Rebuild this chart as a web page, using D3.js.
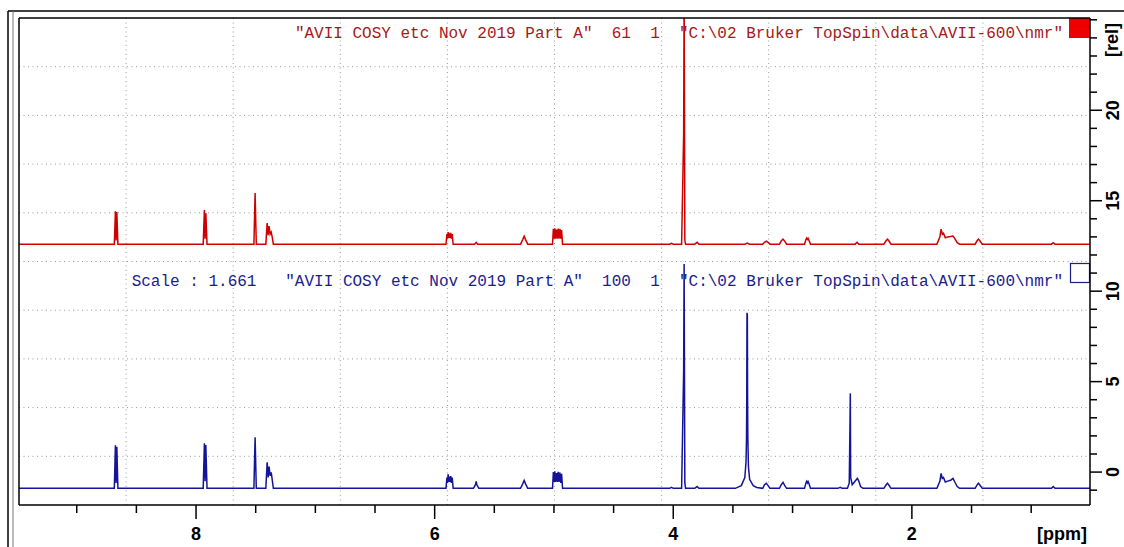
<!DOCTYPE html>
<html lang="en">
<head>
<meta charset="utf-8">
<title>AVII COSY stacked 1H spectra</title>
<script src="https://cdnjs.cloudflare.com/ajax/libs/d3/7.8.5/d3.min.js"></script>
<style>
body { margin: 0; background: #fff; }
svg { display: block; }
.axlabel { font-family: "Liberation Sans", Arial, sans-serif; font-weight: bold; font-size: 18px; fill: #000; }
.title { font-family: "Liberation Mono", "Courier New", monospace; font-size: 16px; white-space: pre; }
</style>
</head>
<body>
<div id="chart"></div>
<script>
// axis values
var ppmMinorTicks = [9, 8.5, 8, 7.5, 7, 6.5, 6, 5.5, 5, 4.5, 4, 3.5, 3, 2.5, 2, 1.5, 1];
var ppmLabels = [8, 6, 4, 2];
var relMinorTicks = [-1, 0, 1, 2, 3, 4, 5, 6, 7, 8, 9, 10, 11, 12, 13, 14, 15, 16, 17, 18, 19, 20, 21, 22, 23, 24, 25];
var relLabels = [0, 5, 10, 15, 20];

// legend strings
var redTitle = "\"AVII COSY etc Nov 2019 Part A\"  61  1  \"C:\\02 Bruker TopSpin\\data\\AVII-600\\nmr\"";
var blueTitle = "Scale : 1.661   \"AVII COSY etc Nov 2019 Part A\"  100  1  \"C:\\02 Bruker TopSpin\\data\\AVII-600\\nmr\"";

// stacking offsets (rel units)
var redOffset = 12.6;
var blueOffset = -0.9;

// red spectrum (exp 61): [ppm, intensity]
var redSpectrum = [
  [9.50, 0],
  [8.685, 0], [8.676, 1.82], [8.670, 0.2], [8.664, 1.77], [8.655, 0],
  [7.940, 0], [7.930, 1.88], [7.924, 0.3], [7.918, 1.71], [7.908, 0],
  [7.515, 0], [7.505, 2.82], [7.495, 0],
  [7.415, 0], [7.404, 1.16], [7.395, 0.5], [7.388, 1.0], [7.379, 0.55], [7.370, 0.66], [7.362, 0.4], [7.352, 0],
  [5.905, 0], [5.897, 0.55], [5.893, 0.3], [5.887, 0.66], [5.882, 0.35], [5.876, 0.6], [5.871, 0.35], [5.865, 0.62], [5.860, 0.3], [5.853, 0.55], [5.845, 0],
  [5.665, 0], [5.652, 0.1], [5.640, 0],
  [5.280, 0], [5.262, 0.25], [5.250, 0.44], [5.238, 0.25], [5.220, 0],
  [5.012, 0], [5.005, 0.85], [4.999, 0.3], [4.993, 0.88], [4.987, 0.3], [4.979, 0.8], [4.972, 0.3], [4.965, 0.86], [4.958, 0.3], [4.950, 0.84], [4.943, 0.3], [4.936, 0.78], [4.928, 0],
  [4.030, 0], [4.015, 0.05], [4.000, 0],
  [3.930, 0], [3.913, 6.1], [3.909, 14.0], [3.903, 0.2], [3.897, 0],
  [3.820, 0], [3.800, 0.1], [3.785, 0],
  [3.400, 0], [3.381, 0.06], [3.360, 0],
  [3.250, 0], [3.235, 0.1], [3.220, 0.17], [3.205, 0.1], [3.190, 0],
  [3.110, 0], [3.095, 0.18], [3.080, 0.28], [3.065, 0.15], [3.050, 0],
  [2.900, 0], [2.888, 0.25], [2.882, 0.33], [2.876, 0.26], [2.870, 0.32], [2.862, 0.2], [2.850, 0],
  [2.475, 0], [2.460, 0.1], [2.445, 0],
  [2.235, 0], [2.215, 0.2], [2.205, 0.28], [2.195, 0.2], [2.175, 0],
  [1.790, 0], [1.765, 0.4], [1.755, 0.83], [1.745, 0.55], [1.735, 0.6], [1.720, 0.35], [1.700, 0.4], [1.675, 0.42], [1.655, 0.45], [1.640, 0.3], [1.620, 0.08], [1.600, 0],
  [1.470, 0], [1.452, 0.2], [1.442, 0.28], [1.432, 0.2], [1.410, 0],
  [0.830, 0], [0.815, 0.08], [0.800, 0],
  [0.50, 0]
];

// blue spectrum (exp 100): [ppm, intensity]
var blueSpectrum = [
  [9.50, 0],
  [8.685, 0], [8.676, 2.38], [8.670, 0.3], [8.664, 2.3], [8.655, 0],
  [7.940, 0], [7.930, 2.49], [7.924, 0.4], [7.918, 2.4], [7.908, 0],
  [7.515, 0], [7.505, 2.82], [7.495, 0],
  [7.415, 0], [7.404, 1.44], [7.395, 0.6], [7.388, 1.2], [7.379, 0.7], [7.370, 0.88], [7.362, 0.5], [7.352, 0],
  [5.905, 0], [5.897, 0.6], [5.893, 0.3], [5.887, 0.77], [5.882, 0.35], [5.876, 0.65], [5.871, 0.35], [5.865, 0.68], [5.860, 0.3], [5.853, 0.6], [5.845, 0],
  [5.675, 0], [5.658, 0.2], [5.652, 0.39], [5.646, 0.2], [5.630, 0],
  [5.280, 0], [5.262, 0.25], [5.250, 0.44], [5.238, 0.25], [5.220, 0],
  [5.012, 0], [5.005, 0.9], [4.999, 0.35], [4.993, 0.94], [4.987, 0.35], [4.979, 0.85], [4.972, 0.35], [4.965, 0.92], [4.958, 0.35], [4.950, 0.88], [4.943, 0.3], [4.936, 0.8], [4.928, 0],
  [4.030, 0], [4.015, 0.05], [4.000, 0],
  [3.930, 0], [3.913, 6.5], [3.909, 12.4], [3.903, 0.3], [3.897, 0],
  [3.820, 0], [3.800, 0.1], [3.785, 0],
  [3.480, 0], [3.430, 0.15], [3.400, 0.6], [3.390, 1.5], [3.386, 2.8], [3.384, 5.0], [3.382, 9.7], [3.379, 9.6], [3.377, 5.0], [3.375, 2.8], [3.370, 1.2], [3.360, 0.5], [3.330, 0.15], [3.300, 0.05],
  [3.250, 0], [3.235, 0.2], [3.220, 0.28], [3.205, 0.15], [3.190, 0],
  [3.110, 0], [3.095, 0.2], [3.080, 0.33], [3.065, 0.15], [3.050, 0],
  [2.900, 0], [2.888, 0.3], [2.882, 0.39], [2.876, 0.3], [2.870, 0.38], [2.862, 0.25], [2.850, 0],
  [2.620, 0], [2.600, 0.06], [2.585, 0],
  [2.540, 0], [2.525, 0.3], [2.519, 3.4], [2.516, 5.25], [2.513, 0.6], [2.500, 0.2], [2.470, 0.45], [2.457, 0.55], [2.445, 0.4], [2.430, 0.1], [2.410, 0],
  [2.235, 0], [2.215, 0.2], [2.205, 0.28], [2.195, 0.2], [2.175, 0],
  [1.790, 0], [1.765, 0.4], [1.755, 0.83], [1.745, 0.55], [1.735, 0.6], [1.720, 0.35], [1.700, 0.4], [1.675, 0.45], [1.655, 0.55], [1.640, 0.35], [1.620, 0.1], [1.600, 0],
  [1.470, 0], [1.452, 0.2], [1.442, 0.28], [1.432, 0.2], [1.410, 0],
  [0.830, 0], [0.815, 0.1], [0.800, 0],
  [0.50, 0]
];

var width = 1124;
var height = 547;
var plot = {left: 19, top: 18, right: 1090, bottom: 505};

var xScale = d3.scaleLinear()
    .domain([9.484, 0.507])
    .range([plot.left, plot.right]);
var yScale = d3.scaleLinear()
    .domain([-1.82, 25.1])
    .range([plot.bottom, plot.top]);

var svg = d3.select("#chart")
    .append("svg")
    .attr("width", width)
    .attr("height", height);

// outer window frame
svg.append("line").attr("x1", 8).attr("x2", width).attr("y1", 11).attr("y2", 11)
    .attr("stroke", "#000").attr("stroke-width", 1.5);
svg.append("line").attr("x1", 8).attr("x2", 8).attr("y1", 11).attr("y2", height)
    .attr("stroke", "#000").attr("stroke-width", 1.5);
svg.append("line").attr("x1", 13).attr("x2", 13).attr("y1", 11).attr("y2", height)
    .attr("stroke", "#777").attr("stroke-width", 1);

svg.append("clipPath").attr("id", "clip")
    .append("rect")
    .attr("x", plot.left).attr("y", plot.top)
    .attr("width", plot.right - plot.left).attr("height", plot.bottom - plot.top);

// dotted 10 x 10 grid
var grid = svg.append("g").attr("stroke", "#9a9a9a").attr("stroke-dasharray", "1,3.5");
d3.range(1, 10).forEach(function(i) {
    var gx = plot.left + i * (plot.right - plot.left) / 10;
    var gy = plot.top + i * (plot.bottom - plot.top) / 10;
    grid.append("line").attr("x1", gx).attr("x2", gx).attr("y1", plot.top).attr("y2", plot.bottom);
    grid.append("line").attr("x1", plot.left).attr("x2", plot.right).attr("y1", gy).attr("y2", gy);
});

function spectrumLine(offset) {
    return d3.line()
        .x(function(d) { return xScale(d[0]); })
        .y(function(d) { return yScale(d[1] + offset); });
}

var spectra = svg.append("g").attr("clip-path", "url(#clip)");
spectra.append("path")
    .datum(redSpectrum)
    .attr("d", spectrumLine(redOffset))
    .attr("fill", "none")
    .attr("stroke", "#d00000")
    .attr("stroke-width", 1.5);
spectra.append("path")
    .datum(blueSpectrum)
    .attr("d", spectrumLine(blueOffset))
    .attr("fill", "none")
    .attr("stroke", "#14149a")
    .attr("stroke-width", 1.5);

// spectrum titles and colour boxes
svg.append("text").attr("class", "title")
    .attr("x", 1063).attr("y", 38)
    .attr("text-anchor", "end")
    .attr("fill", "#a81818")
    .text(redTitle);
svg.append("text").attr("class", "title")
    .attr("x", 1063).attr("y", 286)
    .attr("text-anchor", "end")
    .attr("fill", "#1c1c8c")
    .text(blueTitle);
svg.append("rect")
    .attr("x", 1069).attr("y", plot.top).attr("width", 21).attr("height", 20)
    .attr("fill", "#ee0000");
svg.append("rect")
    .attr("x", 1070.5).attr("y", 263.5).attr("width", 19).attr("height", 19)
    .attr("fill", "none").attr("stroke", "#1c1c8c").attr("stroke-width", 1.2);

// plot frame
svg.append("line").attr("x1", plot.left).attr("x2", plot.right).attr("y1", plot.top).attr("y2", plot.top)
    .attr("stroke", "#000").attr("stroke-width", 1.5);
svg.append("line").attr("x1", plot.left).attr("x2", plot.left).attr("y1", plot.top).attr("y2", plot.bottom)
    .attr("stroke", "#000").attr("stroke-width", 1.5);

// x axis (ppm)
var xAxis = svg.append("g");
xAxis.append("line").attr("x1", plot.left).attr("x2", plot.right).attr("y1", plot.bottom).attr("y2", plot.bottom)
    .attr("stroke", "#000").attr("stroke-width", 1.5);
xAxis.selectAll(".xt")
    .data(ppmMinorTicks)
    .enter()
    .append("line")
    .attr("x1", function(d) { return xScale(d); })
    .attr("x2", function(d) { return xScale(d); })
    .attr("y1", plot.bottom)
    .attr("y2", function(d) { return ppmLabels.indexOf(d) >= 0 ? plot.bottom + 14 : plot.bottom + 8; })
    .attr("stroke", "#000").attr("stroke-width", 1.5);
xAxis.selectAll(".xl")
    .data(ppmLabels)
    .enter()
    .append("text")
    .attr("class", "axlabel")
    .attr("x", function(d) { return xScale(d); })
    .attr("y", 540)
    .attr("text-anchor", "middle")
    .text(function(d) { return d; });
xAxis.append("text").attr("class", "axlabel")
    .attr("x", 1087).attr("y", 540)
    .attr("text-anchor", "end")
    .text("[ppm]");

// y axis (rel) on the right
var yAxis = svg.append("g");
yAxis.append("line").attr("x1", plot.right).attr("x2", plot.right).attr("y1", plot.top).attr("y2", plot.bottom)
    .attr("stroke", "#000").attr("stroke-width", 1.5);
yAxis.selectAll(".yt")
    .data(relMinorTicks)
    .enter()
    .append("line")
    .attr("x1", plot.right)
    .attr("x2", function(d) { return relLabels.indexOf(d) >= 0 ? plot.right + 12 : plot.right + 7; })
    .attr("y1", function(d) { return yScale(d); })
    .attr("y2", function(d) { return yScale(d); })
    .attr("stroke", "#000").attr("stroke-width", 1.5);
yAxis.selectAll(".yl")
    .data(relLabels)
    .enter()
    .append("text")
    .attr("class", "axlabel")
    .attr("transform", function(d) { return "translate(1119," + yScale(d) + ") rotate(-90)"; })
    .attr("text-anchor", "middle")
    .text(function(d) { return d; });
yAxis.append("text").attr("class", "axlabel")
    .attr("transform", "translate(1118,40) rotate(-90)")
    .attr("text-anchor", "middle")
    .text("[rel]");
</script>
</body>
</html>
